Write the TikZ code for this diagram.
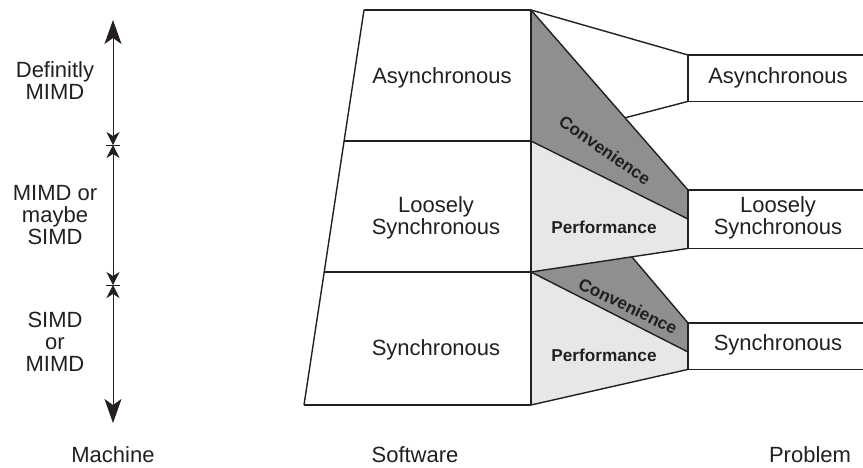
\documentclass[tikz,border=0pt]{standalone}
\usepackage{fontspec}
\setmainfont{Liberation Sans}
\usetikzlibrary{arrows.meta}

\definecolor{ink}{HTML}{231F20}
\definecolor{darkfill}{HTML}{8E8F91}
\definecolor{lightfill}{HTML}{E6E7E8}

\tikzset{
  lbl/.style={font=\fontsize{11}{11}\selectfont, align=center, text=ink},
  tag/.style={font=\fontsize{8.6}{9}\selectfont\bfseries, text=ink},
  pbox/.style={minimum width=120pt, anchor=north west, inner sep=0pt},
  endtip/.tip={Stealth[length=12pt,width=8.5pt,inset=3pt]},
  midtip/.tip={Stealth[length=6.5pt,width=6.5pt,inset=2pt]},
}

\begin{document}
\begin{tikzpicture}[x=0.5pt,y=-0.5pt,line width=0.7pt,draw=ink]
  \useasboundingbox (0,0) rectangle (863,467);
  \clip (0,0) rectangle (863,467);

  % software block corners
  \coordinate (sw_tl) at (364,10);
  \coordinate (sw_tr) at (531,10);
  \coordinate (sw_l1) at (344,141);
  \coordinate (sw_r1) at (531,141);
  \coordinate (sw_l2) at (324,272);
  \coordinate (sw_r2) at (531,272);
  \coordinate (sw_bl) at (304,405);
  \coordinate (sw_br) at (531,405);

  % problem boxes (open to the right)
  \node[pbox,minimum height=22.5pt] (pr_async) at (688,55)  {};
  \node[pbox,minimum height=28.5pt] (pr_loose) at (688,190) {};
  \node[pbox,minimum height=22.5pt] (pr_sync)  at (688,323) {};
  \coordinate (pl_mid) at (688,219);
  \coordinate (ps_mid) at (688,352);
  \coordinate (c_top)  at (625,117.8);
  \coordinate (c_knee) at (632,257);

  % shaded bands
  \fill[darkfill]  (sw_tr) -- (pr_loose.north west) -- (pl_mid) -- (sw_r1) -- cycle;
  \fill[lightfill] (sw_r1) -- (pl_mid) -- (pr_loose.south west) -- (sw_r2) -- cycle;
  \fill[darkfill]  (sw_r2) -- (c_knee) -- (pr_sync.north west) -- (ps_mid) -- cycle;
  \fill[lightfill] (sw_r2) -- (ps_mid) -- (pr_sync.south west) -- (sw_br) -- cycle;

  % software block
  \draw (sw_tl) -- (sw_bl);
  \draw (sw_tr) -- (sw_br);
  \draw (sw_tl) -- (sw_tr);
  \draw (sw_l1) -- (sw_r1);
  \draw (sw_l2) -- (sw_r2);
  \draw (sw_bl) -- (sw_br);

  % problem boxes
  \foreach \b in {pr_async,pr_loose,pr_sync}
    \draw (\b.north east) -- (\b.north west) -- (\b.south west) -- (\b.south east);

  % connecting lines
  \draw (sw_tr) -- (pr_async.north west);
  \draw (pr_async.south west) -- (c_top);
  \draw (sw_tr) -- (pr_loose.north west);
  \draw (sw_r1) -- (pl_mid);
  \draw (sw_r2) -- (pr_loose.south west);
  \draw (c_knee) -- (pr_sync.north west);
  \draw (sw_r2) -- (ps_mid);
  \draw (sw_br) -- (pr_sync.south west);

  % machine axis
  \coordinate (ax_top) at (113,20);
  \coordinate (ax_t1)  at (113,145);
  \coordinate (ax_t2)  at (113,285);
  \coordinate (ax_bot) at (113,423);
  \draw[line width=0.5pt,endtip-midtip] (ax_top) -- (ax_t1);
  \draw[line width=0.5pt,midtip-midtip] (ax_t1) -- (ax_t2);
  \draw[line width=0.5pt,midtip-endtip] (ax_t2) -- (ax_bot);
  \draw[line width=0.5pt] ([xshift=-3.5pt]ax_t1) -- ([xshift=3.5pt]ax_t1);
  \draw[line width=0.5pt] ([xshift=-3.5pt]ax_t2) -- ([xshift=3.5pt]ax_t2);

  % machine labels
  \node[lbl] (m_def)  at (55,81)  {Definitly\\MIMD};
  \node[lbl] (m_mid)  at (55,215) {MIMD or\\maybe\\SIMD};
  \node[lbl] (m_low)  at (55,342) {SIMD\\or\\MIMD};

  % software labels
  \node[lbl] (s_async) at (442,78)  {Asynchronous};
  \node[lbl] (s_loose) at (436,218) {Loosely\\Synchronous};
  \node[lbl] (s_sync)  at (436,350) {Synchronous};

  % problem labels
  \node[lbl] (p_async) at (778,78)  {Asynchronous};
  \node[lbl] (p_loose) at (778,218) {Loosely\\Synchronous};
  \node[lbl] (p_sync)  at (778,345) {Synchronous};

  % band tags
  \node[tag,rotate=-35] (t_conv1) at (605,150) {Convenience};
  \node[tag]            (t_perf1) at (604,227) {Performance};
  \node[tag,rotate=-26] (t_conv2) at (628,306) {Convenience};
  \node[tag]            (t_perf2) at (604,355) {Performance};

  % column titles
  \node[lbl] (c_machine)  at (113,455) {Machine};
  \node[lbl] (c_software) at (415,455) {Software};
  \node[lbl] (c_problem)  at (810,455) {Problem};
\end{tikzpicture}
\end{document}
